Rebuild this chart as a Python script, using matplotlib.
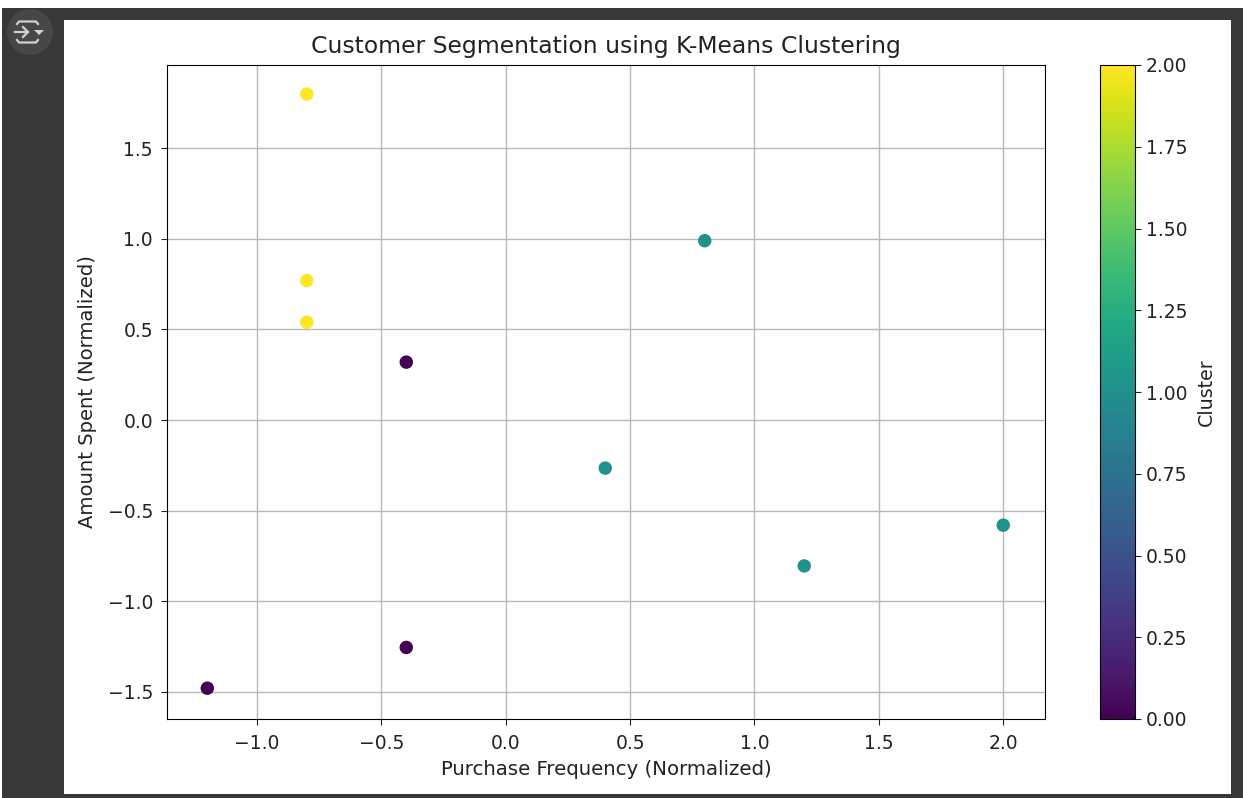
import matplotlib
matplotlib.use("Agg")
import matplotlib.pyplot as plt
from matplotlib.patches import Rectangle, Circle, Polygon
from matplotlib.lines import Line2D

freq = [-0.8, -0.8, -0.8, -0.4, -0.4, -1.2, 0.8, 0.4, 1.2, 2.0]
spent = [1.80, 0.77, 0.54, 0.32, -1.255, -1.48, 0.99, -0.265, -0.805, -0.58]
cluster = [2, 2, 2, 0, 0, 0, 1, 1, 1, 1]
title = "Customer Segmentation using K-Means Clustering"
xlabel = "Purchase Frequency (Normalized)"
ylabel = "Amount Spent (Normalized)"
cbar_label = "Cluster"

W, H = 1243, 798
fig = plt.figure(figsize=(W/100, H/100), dpi=100, facecolor="white")
def box(l, t, r, b):
    return [l/W, 1-b/H, (r-l)/W, (b-t)/H]

def frac(x, y):
    return x/W, 1-y/H

# screenshot frame
tf = fig.transFigure
fig.patches.append(Rectangle(frac(2, 798), (W-2)/W, (798-8)/H, transform=tf, facecolor="#383838", edgecolor="none", zorder=-10))
fig.patches.append(Rectangle(frac(64, 794), (1231-64)/W, (794-20)/H, transform=tf, facecolor="white", edgecolor="none", zorder=-9))
fig.patches.append(Circle((30, H-32), 23, transform=None, facecolor="#474747", edgecolor="none", zorder=-7))
icon = "#d2d2d2"
for xs, ys in [([17, 19, 36, 38], [24, 21.5, 21.5, 24]),
               ([17, 19, 36, 38], [40, 42.5, 42.5, 40]),
               ([15, 28], [32, 32]),
               ([23, 28, 23], [27, 32, 37])]:
    fig.add_artist(Line2D([x/W for x in xs], [1-y/H for y in ys], transform=tf, color=icon, linewidth=1.6))
fig.add_artist(Polygon([frac(34, 30), frac(44, 30), frac(39, 35)], closed=True, transform=tf, facecolor=icon, edgecolor="none"))

ax = fig.add_axes(box(167, 65, 1045, 719))
sc = ax.scatter(freq, spent, c=cluster, cmap="viridis", s=75, zorder=3)
ax.set_xlim(-1.362, 2.168)
ax.set_ylim(-1.65, 1.96)
ax.grid(True, color="#b8b8b8", linewidth=1.0)
ax.set_xticks([-1, -0.5, 0, 0.5, 1, 1.5, 2])
ax.set_yticks([-1.5, -1, -0.5, 0, 0.5, 1, 1.5])
ax.tick_params(labelsize=13.5, length=4.5, colors="#222222")
ax.tick_params(axis="x", pad=6.5)
ax.tick_params(axis="y", pad=5.5)
ax.set_title(title, fontsize=16.9, pad=9, color="#222222")
ax.set_xlabel(xlabel, fontsize=14.2, labelpad=5, color="#222222")
ax.set_ylabel(ylabel, fontsize=14.1, labelpad=8, color="#222222")

cax = fig.add_axes(box(1100, 65, 1135, 719))
cb = fig.colorbar(sc, cax=cax)
cb.set_ticks([0, .25, .5, .75, 1, 1.25, 1.5, 1.75, 2])
cb.ax.tick_params(labelsize=13.5, length=4.5, colors="#222222")
cb.set_label(cbar_label, fontsize=13.7, labelpad=7, color="#222222")

fig.savefig("out.png", dpi=100, facecolor=fig.get_facecolor())
